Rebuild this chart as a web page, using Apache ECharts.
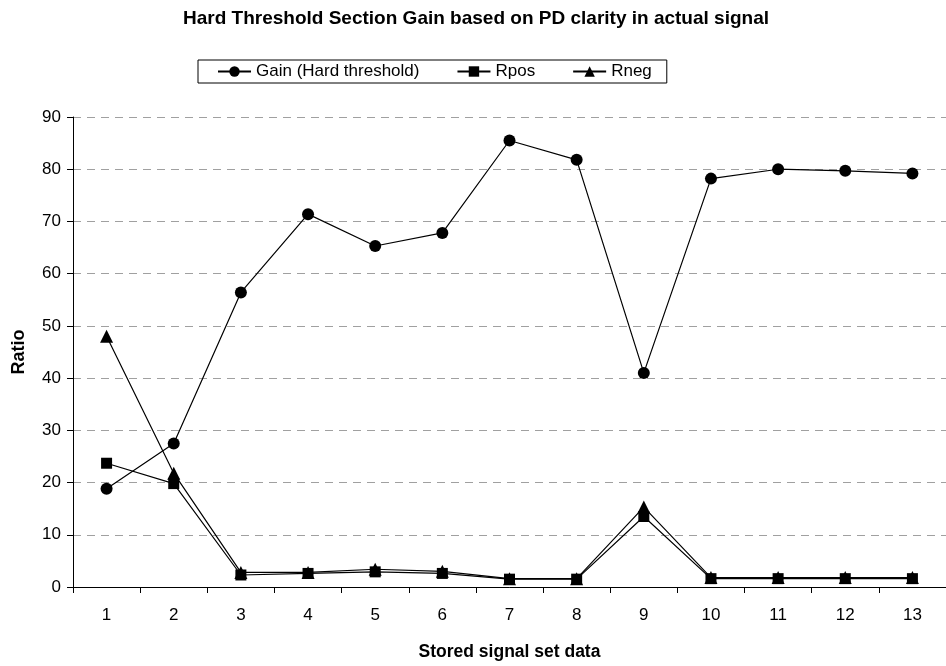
<!DOCTYPE html>
<html><head><meta charset="utf-8">
<script src="https://cdn.jsdelivr.net/npm/echarts@6/dist/echarts.min.js"></script>
<style>html,body{margin:0;padding:0;background:#fff}#c{width:946px;height:666px}</style>
</head><body><div id="c"></div>
<script>
const categories = ['1','2','3','4','5','6','7','8','9','10','11','12','13'];
const gain = [18.8, 27.5, 56.4, 71.4, 65.3, 67.8, 85.5, 81.8, 41.0, 78.2, 80.0, 79.7, 79.2];
const rpos = [23.7, 19.8, 2.3, 2.6, 2.9, 2.6, 1.5, 1.5, 13.5, 1.6, 1.6, 1.6, 1.6];
const rneg = [48.0, 21.8, 2.8, 2.8, 3.4, 3.0, 1.6, 1.6, 15.3, 1.8, 1.8, 1.8, 1.8];
const seriesNames = ['Gain (Hard threshold)', 'Rpos', 'Rneg'];

const chart = echarts.init(document.getElementById('c'), null, {renderer: 'canvas'});
const font = 'Arial, "Liberation Sans", sans-serif';
function mk(name, data, symbol, size) {
  return {
    name, type: 'line', data, symbol, symbolSize: size,
    lineStyle: {color: '#000', width: 1.2},
    itemStyle: {color: '#000'},
    emphasis: {disabled: true}, animation: false
  };
}
chart.setOption({
  animation: false,
  title: {
    text: 'Hard Threshold Section Gain based on PD clarity in actual signal',
    left: 471, top: 4, textAlign: 'center',
    textStyle: {fontFamily: font, fontSize: 19, fontWeight: 'bold', color: '#000'}
  },
  legend: {
    left: 198, top: 60, itemWidth: 33, itemHeight: 13, itemGap: 37,
    borderColor: '#000', borderWidth: 1, padding: [3, 15, 3, 19],
    textStyle: {fontFamily: font, fontSize: 17, color: '#000'},
    data: seriesNames
  },
  grid: {left: 73, top: 117, right: -9.5, bottom: 78, containLabel: false},
  xAxis: {
    type: 'category', data: categories, boundaryGap: true,
    name: 'Stored signal set data', nameLocation: 'middle', nameGap: 56,
    nameTextStyle: {fontFamily: font, fontSize: 17.5, fontWeight: 'bold', color: '#000'},
    axisLine: {lineStyle: {color: '#000', width: 1}},
    axisTick: {show: true, length: 6, lineStyle: {color: '#000'}},
    axisLabel: {fontFamily: font, fontSize: 17, color: '#000', margin: 20},
    splitLine: {show: false}
  },
  yAxis: {
    type: 'value', min: 0, max: 90, interval: 10,
    name: 'Ratio', nameLocation: 'middle', nameGap: 45, nameRotate: 90,
    nameTextStyle: {fontFamily: font, fontSize: 18, fontWeight: 'bold', color: '#000'},
    axisLine: {show: true, lineStyle: {color: '#000', width: 1}},
    axisTick: {show: true, length: 6, lineStyle: {color: '#000'}},
    axisLabel: {fontFamily: font, fontSize: 17, color: '#000', margin: 12},
    splitLine: {show: true, lineStyle: {color: '#a0a0a0', type: [8, 6], width: 1}}
  },
  series: [
    mk(seriesNames[0], gain, 'circle', 12),
    mk(seriesNames[1], rpos, 'rect', 11),
    mk(seriesNames[2], rneg, 'triangle', 13)
  ]
});
</script></body></html>
